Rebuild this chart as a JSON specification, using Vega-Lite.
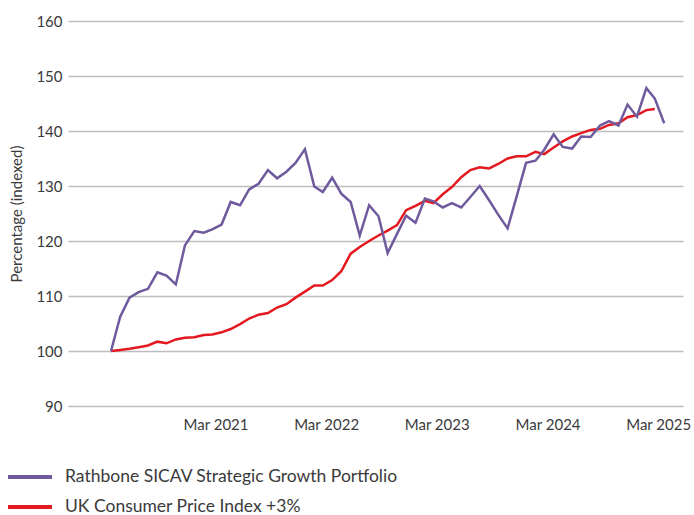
{
  "$schema": "https://vega.github.io/schema/vega-lite/v6.json",
  "width": 615,
  "height": 385,
  "autosize": "none",
  "padding": {"left": 68, "top": 21, "right": 11, "bottom": 109},
  "background": "white",
  "config": {
    "font": "Lato",
    "view": {"stroke": null},
    "axis": {"labelColor": "#3a3a3a", "titleColor": "#3a3a3a", "labelFont": "Lato", "titleFont": "Lato"},
    "legend": {"labelColor": "#3a3a3a", "labelFont": "Lato"}
  },
  "datasets": {
    "portfolio": [
      {"date": "2020-04-01", "value": 100.0},
      {"date": "2020-05-01", "value": 106.2},
      {"date": "2020-06-01", "value": 109.7},
      {"date": "2020-07-01", "value": 110.7},
      {"date": "2020-08-01", "value": 111.3},
      {"date": "2020-09-01", "value": 114.3},
      {"date": "2020-10-01", "value": 113.7},
      {"date": "2020-11-01", "value": 112.1},
      {"date": "2020-12-01", "value": 119.2},
      {"date": "2021-01-01", "value": 121.8},
      {"date": "2021-02-01", "value": 121.5},
      {"date": "2021-03-01", "value": 122.1},
      {"date": "2021-04-01", "value": 123.0},
      {"date": "2021-05-01", "value": 127.1},
      {"date": "2021-06-01", "value": 126.5},
      {"date": "2021-07-01", "value": 129.4},
      {"date": "2021-08-01", "value": 130.4},
      {"date": "2021-09-01", "value": 132.9},
      {"date": "2021-10-01", "value": 131.4},
      {"date": "2021-11-01", "value": 132.6},
      {"date": "2021-12-01", "value": 134.2},
      {"date": "2022-01-01", "value": 136.7},
      {"date": "2022-02-01", "value": 129.9},
      {"date": "2022-03-01", "value": 128.9},
      {"date": "2022-04-01", "value": 131.5},
      {"date": "2022-05-01", "value": 128.6},
      {"date": "2022-06-01", "value": 127.1},
      {"date": "2022-07-01", "value": 121.0},
      {"date": "2022-08-01", "value": 126.5},
      {"date": "2022-09-01", "value": 124.5},
      {"date": "2022-10-01", "value": 117.8},
      {"date": "2022-11-01", "value": 121.3},
      {"date": "2022-12-01", "value": 124.6},
      {"date": "2023-01-01", "value": 123.3},
      {"date": "2023-02-01", "value": 127.7},
      {"date": "2023-03-01", "value": 127.2},
      {"date": "2023-04-01", "value": 126.1},
      {"date": "2023-05-01", "value": 126.9},
      {"date": "2023-06-01", "value": 126.1},
      {"date": "2023-07-01", "value": 128.0},
      {"date": "2023-08-01", "value": 130.0},
      {"date": "2023-09-01", "value": 127.4},
      {"date": "2023-10-01", "value": 124.8},
      {"date": "2023-11-01", "value": 122.3},
      {"date": "2023-12-01", "value": 128.1},
      {"date": "2024-01-01", "value": 134.2},
      {"date": "2024-02-01", "value": 134.6},
      {"date": "2024-03-01", "value": 136.6},
      {"date": "2024-04-01", "value": 139.4},
      {"date": "2024-05-01", "value": 137.1},
      {"date": "2024-06-01", "value": 136.8},
      {"date": "2024-07-01", "value": 139.0},
      {"date": "2024-08-01", "value": 138.9},
      {"date": "2024-09-01", "value": 141.0},
      {"date": "2024-10-01", "value": 141.8},
      {"date": "2024-11-01", "value": 141.0},
      {"date": "2024-12-01", "value": 144.8},
      {"date": "2025-01-01", "value": 142.6},
      {"date": "2025-02-01", "value": 147.8},
      {"date": "2025-03-01", "value": 145.9},
      {"date": "2025-04-01", "value": 141.4}
    ],
    "cpi": [
      {"date": "2020-04-01", "value": 100.0},
      {"date": "2020-05-01", "value": 100.2},
      {"date": "2020-06-01", "value": 100.4},
      {"date": "2020-07-01", "value": 100.7},
      {"date": "2020-08-01", "value": 101.0},
      {"date": "2020-09-01", "value": 101.7},
      {"date": "2020-10-01", "value": 101.4},
      {"date": "2020-11-01", "value": 102.1},
      {"date": "2020-12-01", "value": 102.4},
      {"date": "2021-01-01", "value": 102.5},
      {"date": "2021-02-01", "value": 102.9},
      {"date": "2021-03-01", "value": 103.0},
      {"date": "2021-04-01", "value": 103.4},
      {"date": "2021-05-01", "value": 104.0},
      {"date": "2021-06-01", "value": 104.9},
      {"date": "2021-07-01", "value": 105.9},
      {"date": "2021-08-01", "value": 106.6},
      {"date": "2021-09-01", "value": 106.9},
      {"date": "2021-10-01", "value": 107.9},
      {"date": "2021-11-01", "value": 108.5},
      {"date": "2021-12-01", "value": 109.7},
      {"date": "2022-01-01", "value": 110.8},
      {"date": "2022-02-01", "value": 111.9},
      {"date": "2022-03-01", "value": 111.9},
      {"date": "2022-04-01", "value": 112.9},
      {"date": "2022-05-01", "value": 114.5},
      {"date": "2022-06-01", "value": 117.7},
      {"date": "2022-07-01", "value": 118.9},
      {"date": "2022-08-01", "value": 120.0},
      {"date": "2022-09-01", "value": 121.0},
      {"date": "2022-10-01", "value": 121.9},
      {"date": "2022-11-01", "value": 122.9},
      {"date": "2022-12-01", "value": 125.6},
      {"date": "2023-01-01", "value": 126.4},
      {"date": "2023-02-01", "value": 127.3},
      {"date": "2023-03-01", "value": 126.9},
      {"date": "2023-04-01", "value": 128.5},
      {"date": "2023-05-01", "value": 129.8},
      {"date": "2023-06-01", "value": 131.6},
      {"date": "2023-07-01", "value": 132.9},
      {"date": "2023-08-01", "value": 133.4},
      {"date": "2023-09-01", "value": 133.2},
      {"date": "2023-10-01", "value": 134.0},
      {"date": "2023-11-01", "value": 135.0},
      {"date": "2023-12-01", "value": 135.4},
      {"date": "2024-01-01", "value": 135.4},
      {"date": "2024-02-01", "value": 136.2},
      {"date": "2024-03-01", "value": 135.8},
      {"date": "2024-04-01", "value": 137.0},
      {"date": "2024-05-01", "value": 138.1},
      {"date": "2024-06-01", "value": 139.0},
      {"date": "2024-07-01", "value": 139.6},
      {"date": "2024-08-01", "value": 140.2},
      {"date": "2024-09-01", "value": 140.4},
      {"date": "2024-10-01", "value": 141.1},
      {"date": "2024-11-01", "value": 141.4},
      {"date": "2024-12-01", "value": 142.5},
      {"date": "2025-01-01", "value": 142.9},
      {"date": "2025-02-01", "value": 143.8},
      {"date": "2025-03-01", "value": 144.0}
    ]
  },
  "encoding": {
    "x": {
      "field": "date",
      "type": "temporal",
      "scale": {"domain": ["2019-11-11", "2025-06-02"]},
      "axis": {
        "values": ["2021-03-12", "2022-03-12", "2023-03-12", "2024-03-12", "2025-03-12"],
        "format": "%b %Y",
        "grid": false,
        "domain": false,
        "ticks": false,
        "labelFontSize": 15,
        "labelPadding": 11,
        "title": null
      }
    },
    "y": {
      "field": "value",
      "type": "quantitative",
      "scale": {"domain": [90, 160], "nice": false, "zero": false},
      "axis": {
        "values": [90, 100, 110, 120, 130, 140, 150, 160],
        "grid": true,
        "gridColor": "#bdbdbd",
        "gridWidth": 1.5,
        "domain": false,
        "ticks": false,
        "labelFontSize": 15,
        "labelPadding": 6,
        "title": "Percentage (indexed)",
        "titleFontSize": 15,
        "titleFontWeight": "normal",
        "titlePadding": 11
      }
    },
    "color": {
      "scale": {
        "domain": ["Rathbone SICAV Strategic Growth Portfolio", "UK Consumer Price Index +3%"],
        "range": ["#6e5a9c", "#e3191f"]
      },
      "legend": {
        "orient": "none",
        "legendX": -51,
        "legendY": 443,
        "title": null,
        "direction": "vertical",
        "symbolType": "M-2,0H2",
        "symbolSize": 484,
        "symbolStrokeWidth": 4,
        "labelFontSize": 17.5,
        "labelOffset": 22,
        "labelLimit": 0,
        "rowPadding": 8
      }
    }
  },
  "layer": [
    {
      "data": {"name": "cpi"},
      "mark": {"type": "line", "strokeWidth": 2.5},
      "encoding": {"color": {"datum": "UK Consumer Price Index +3%"}}
    },
    {
      "data": {"name": "portfolio"},
      "mark": {"type": "line", "strokeWidth": 2.5},
      "encoding": {"color": {"datum": "Rathbone SICAV Strategic Growth Portfolio"}}
    }
  ]
}
